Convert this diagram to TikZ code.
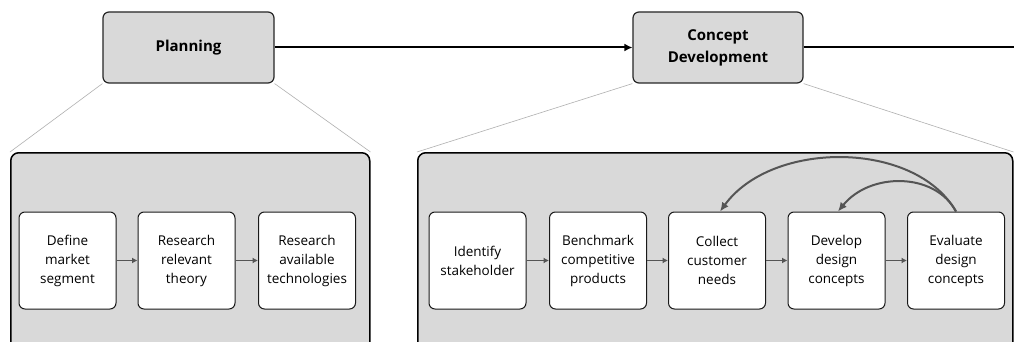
\documentclass[tikz,border=0pt]{standalone}
\usepackage{fontspec}
\setmainfont{Open Sans}
\usetikzlibrary{arrows.meta}
\definecolor{panelgray}{HTML}{D9D9D9}
\definecolor{linkgray}{HTML}{555555}
\definecolor{fangray}{HTML}{B0B0B0}
\begin{document}
\begin{tikzpicture}[x=1pt,y=-1pt,
  phase/.style={draw=black!85, line width=1.2pt, fill=panelgray, rounded corners=6pt,
    minimum width=171pt, minimum height=71pt, inner sep=0pt, align=center,
    font=\fontsize{15}{22}\selectfont\bfseries},
  panel/.style={draw=black, line width=1.5pt, fill=panelgray, rounded corners=8pt,
    minimum height=215pt, inner sep=0pt, anchor=north west},
  task/.style={draw=black!90, line width=1pt, fill=white, rounded corners=6pt,
    minimum width=97pt, minimum height=97pt, inner sep=0pt, align=center,
    font=\fontsize{13.5}{19}\selectfont},
  flow/.style={-{Latex[length=5.5pt,width=6pt]}, draw=linkgray, line width=1.9pt},
  loop/.style={-{Latex[length=9pt,width=8pt]}, draw=linkgray, line width=2pt},
  fan/.style={draw=fangray, line width=0.6pt}]
\useasboundingbox (0,0) rectangle (1014,342);
\clip (0,0) rectangle (1014,342);
\fill[white] (0,0) rectangle (1014,342);

% phases
\node[phase] (plan) at (188.5,47.5) {Planning};
\node[phase, minimum width=170pt] (cdev) at (718,47.5) {Concept\\Development};
\coordinate (next) at (1016,47.5);
\draw[line width=2pt, -{Latex[length=8pt,width=8pt]}] (plan) -- (cdev);
\draw[line width=2pt] (cdev) -- (next);

% detail panels
\node[panel, minimum width=359pt] (lp) at (10,152) {};
\node[panel, minimum width=595pt] (rp) at (417,152) {};
\draw[fan] (plan.south west) -- (lp.north west);
\draw[fan] (plan.south east) -- (lp.north east);
\draw[fan] (cdev.south west) -- (rp.north west);
\draw[fan] (cdev.south east) -- (rp.north east);

% planning tasks
\node[task] (p1) at (67.5,260.5) {Define\\market\\segment};
\node[task] (p2) at (186.5,260.5) {Research\\relevant\\theory};
\node[task] (p3) at (307,260.5) {Research\\available\\technologies};
\draw[flow] (p1) -- (p2);
\draw[flow] (p2) -- (p3);

% concept development tasks
\node[task] (c1) at (477.5,260.5) {Identify\\stakeholder};
\node[task] (c2) at (598,260.5) {Benchmark\\competitive\\products};
\node[task] (c3) at (717,260.5) {Collect\\customer\\needs};
\node[task] (c4) at (836.5,260.5) {Develop\\design\\concepts};
\node[task] (c5) at (956,260.5) {Evaluate\\design\\concepts};
\draw[flow] (c1) -- (c2);
\draw[flow] (c2) -- (c3);
\draw[flow] (c3) -- (c4);
\draw[flow] (c4) -- (c5);

% feedback loops
\draw[loop] (c5.north) .. controls (915,140) and (772,140) .. ([xshift=3pt]c3.north);
\draw[loop] (c5.north) .. controls (935,172) and (870,172) .. ([xshift=1.5pt]c4.north);
\end{tikzpicture}
\end{document}
